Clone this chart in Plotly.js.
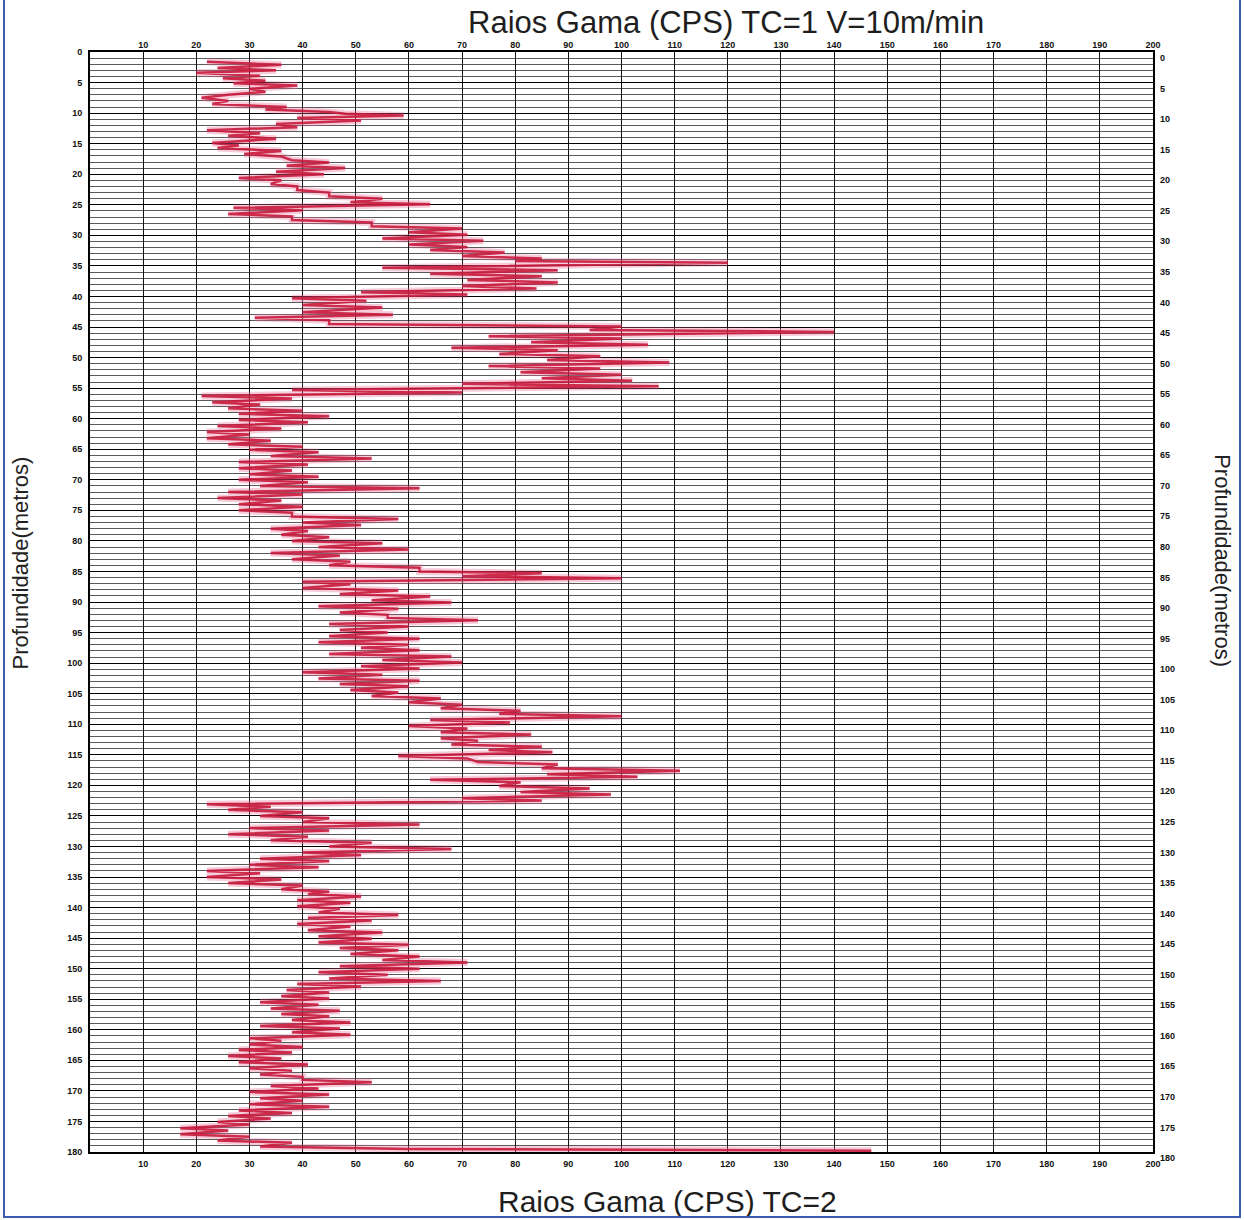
<!DOCTYPE html>
<html>
<head>
<meta charset="utf-8">
<script src="https://cdn.plot.ly/plotly-3.0.1.min.js"></script>
<style>
  html, body { margin: 0; padding: 0; background: #ffffff; }
  #chart { width: 1244px; height: 1220px; }
  #frame { position: absolute; left: 3px; top: 0; width: 1234px; height: 1216px;
           border-left: 2px solid #3a5cae; border-right: 2px solid #3a5cae; border-bottom: 2px solid #3a5cae;
           pointer-events: none; }
</style>
</head>
<body>
<div id="chart"></div>
<div id="frame"></div>
<script>
// Gamma-ray log: depth (m) and counts per second
const depthM = [
1.6,2.1,2.6,3.0,3.4,3.9,4.3,4.7,5.1,5.5,6.0,6.5,7.0,7.5,8.0,8.5,9.0,9.4,9.8,10.1,10.4,10.8,11.2,11.8,12.3,12.8,13.3,13.7,14.2,14.9,15.3,15.7,16.2,16.7,17.1,17.7,18.1,18.6,19.0,19.6,20.0,20.6,21.0,21.6,22.0,22.6,23.0,23.6,24.0,24.6,24.9,25.5,25.9,26.5,26.9,27.5,27.9,28.5,28.9,29.5,29.9,30.5,30.9,31.5,31.9,32.4,32.8,33.4,33.8,34.2,34.5,35.3,35.7,36.3,36.7,37.3,37.7,38.3,38.7,39.3,39.7,40.3,40.7,41.4,41.8,42.6,43.0,43.5,43.9,44.5,44.9,45.5,45.8,46.5,46.9,47.5,47.9,48.4,48.8,49.4,49.8,50.4,50.8,51.4,51.8,52.4,52.8,53.4,53.8,54.3,54.7,55.3,55.7,56.3,56.7,57.3,57.7,58.3,58.7,59.2,59.6,60.2,60.6,61.2,61.6,62.2,62.6,63.2,63.6,64.2,64.6,65.1,65.5,66.1,66.5,67.1,67.5,68.1,68.5,69.1,69.5,70.0,70.4,71.0,71.4,72.0,72.4,73.0,73.4,74.0,74.4,75.0,75.4,76.0,76.4,77.0,77.4,78.0,78.4,79.0,79.4,80.0,80.4,81.0,81.4,82.0,82.4,83.0,83.4,84.0,84.4,85.0,85.3,85.8,86.1,86.7,87.1,87.7,88.1,88.7,89.1,89.7,90.1,90.7,91.1,91.7,92.1,92.6,93.0,93.6,94.0,94.6,95.0,95.6,96.0,96.6,97.0,97.5,97.9,98.5,98.9,99.5,99.9,100.5,100.9,101.5,101.9,102.5,102.9,103.4,103.8,104.4,104.8,105.4,105.8,106.4,106.8,107.4,107.8,108.3,108.7,109.3,109.7,110.3,110.7,111.3,111.7,112.3,112.7,113.3,113.7,114.2,114.6,115.2,115.6,116.2,116.6,117.2,117.6,118.2,118.6,119.1,119.5,120.1,120.5,121.1,121.5,122.1,122.5,123.1,123.5,124.0,124.4,125.0,125.4,126.0,126.4,127.0,127.4,128.0,128.4,129.0,129.4,130.0,130.4,131.0,131.4,132.0,132.4,133.0,133.4,134.0,134.4,135.0,135.4,136.0,136.4,137.0,137.4,137.8,138.2,138.8,139.2,139.8,140.2,140.8,141.2,141.7,142.1,142.7,143.1,143.7,144.1,144.7,145.1,145.7,146.1,146.6,147.0,147.6,148.0,148.6,149.0,149.6,150.0,150.6,151.0,151.6,152.0,152.5,152.9,153.5,153.9,154.5,154.9,155.5,155.9,156.5,156.9,157.4,157.8,158.4,158.8,159.4,159.8,160.4,160.8,161.4,161.8,162.4,162.8,163.3,163.7,164.3,164.7,165.3,165.7,166.3,166.7,167.3,167.7,168.2,168.6,169.2,169.6,170.2,170.6,171.2,171.6,172.2,172.6,173.2,173.6,174.1,174.5,175.1,175.5,176.1,176.5,177.1,177.5,178.1,178.5,179.1,179.5,179.8
];
const gammaCPS = [
22,36,24,35,20,32,25,33,27,39,30,33,26,21,26,23,37,33,45,48,59,39,51,35,39,22,32,26,35,23,28,24,36,29,36,38,45,37,48,35,44,28,36,34,39,39,45,45,55,49,64,27,40,26,38,38,53,53,70,60,71,55,74,60,71,64,78,70,85,80,120,55,88,64,85,71,88,70,84,51,71,38,52,40,55,40,57,31,45,45,100,94,140,75,100,83,105,68,88,77,96,86,109,75,96,81,100,85,102,70,107,38,70,21,38,23,32,26,40,28,45,28,41,24,36,22,30,22,34,26,40,30,43,34,53,28,41,28,38,30,43,28,41,32,62,26,40,24,36,28,40,28,38,38,58,40,51,34,41,36,45,38,55,43,60,34,47,38,49,45,62,62,85,70,100,40,49,40,58,47,64,53,68,43,58,47,56,56,73,45,60,47,56,45,62,43,60,51,62,45,68,55,70,51,62,40,55,43,62,47,60,49,58,53,66,60,70,66,81,77,100,64,79,60,71,66,83,66,73,68,85,75,87,58,71,73,88,85,111,86,103,64,81,77,94,81,98,70,85,22,34,26,40,32,45,40,62,30,45,26,41,34,53,45,68,40,51,32,45,30,43,22,32,22,36,26,40,36,45,41,51,39,49,39,47,43,58,41,53,39,49,41,55,43,53,43,60,47,58,49,62,55,71,47,62,43,56,45,66,39,51,37,45,36,45,32,43,34,47,36,45,38,49,32,47,38,49,30,36,30,40,28,38,26,36,28,41,30,38,32,40,40,53,34,43,30,45,32,40,30,45,28,38,26,34,24,30,17,26,17,30,24,38,32,60,147
];
const xTickVals = [10,20,30,40,50,60,70,80,90,100,110,120,130,140,150,160,170,180,190,200];
const yTickVals = [0,5,10,15,20,25,30,35,40,45,50,55,60,65,70,75,80,85,90,95,100,105,110,115,120,125,130,135,140,145,150,155,160,165,170,175,180];
const titleTop = 'Raios Gama (CPS) TC=1 V=10m/min';
const titleBottom = 'Raios Gama (CPS) TC=2';
const titleDepth = 'Profundidade(metros)';

const tickFont = {family: 'Liberation Sans, Arial, sans-serif', size: 9, color: '#111', weight: 'bold'};
const titleFontTop = {family: 'Liberation Sans, Arial, sans-serif', size: 31, color: '#1e1e1e'};
const titleFontBottom = {family: 'Liberation Sans, Arial, sans-serif', size: 30, color: '#1e1e1e'};

const traces = [
  {x: gammaCPS, y: depthM, type: 'scatter', mode: 'lines', xaxis: 'x', yaxis: 'y',
   line: {color: 'rgba(232,110,150,0.35)', width: 7, shape: 'linear'}, hoverinfo: 'skip', showlegend: false},
  {x: gammaCPS, y: depthM, type: 'scatter', mode: 'lines', xaxis: 'x', yaxis: 'y',
   line: {color: 'rgba(200,25,60,0.9)', width: 2.5}, showlegend: false},
  {x: gammaCPS, y: depthM, type: 'scatter', mode: 'lines', xaxis: 'x2', yaxis: 'y2',
   line: {color: 'rgba(0,0,0,0)', width: 0}, hoverinfo: 'skip', showlegend: false}
];

const layout = {
  width: 1244, height: 1220,
  margin: {l: 90, r: 91, t: 52, b: 68},
  paper_bgcolor: '#ffffff', plot_bgcolor: '#ffffff',
  showlegend: false,
  xaxis: {range: [0, 200], tickmode: 'array', tickvals: xTickVals, side: 'bottom',
          showgrid: true, gridcolor: '#111', gridwidth: 1, zeroline: false,
          showline: true, mirror: true, linecolor: '#000', linewidth: 2,
          ticks: '', ticklabelstandoff: 2, tickfont: tickFont},
  xaxis2: {range: [0, 200], tickmode: 'array', tickvals: xTickVals, side: 'top', overlaying: 'x',
           showgrid: false, zeroline: false, showline: false, ticks: '', ticklabelstandoff: 1, tickfont: tickFont},
  yaxis: {range: [180, 0], tickmode: 'array', tickvals: yTickVals, side: 'left',
          showgrid: true, gridcolor: '#000', gridwidth: 1, zeroline: false,
          minor: {dtick: 1, showgrid: true, gridcolor: '#5a5a5a', gridwidth: 1, ticks: ''},
          showline: true, mirror: true, linecolor: '#000', linewidth: 2,
          ticks: '', ticklabelstandoff: 4, tickfont: tickFont},
  yaxis2: {range: [180, 0], tickmode: 'array', tickvals: yTickVals, side: 'right', overlaying: 'y',
           showgrid: false, zeroline: false, showline: false, ticks: '', ticklabelstandoff: 6,
           ticklabelshift: -6, tickfont: tickFont},
  annotations: [
    {text: titleTop, xref: 'paper', yref: 'paper', x: 0.598, y: 1, yshift: 30, showarrow: false,
     xanchor: 'center', yanchor: 'middle', font: titleFontTop},
    {text: titleBottom, xref: 'paper', yref: 'paper', x: 0.543, y: 0, yshift: -49, showarrow: false,
     xanchor: 'center', yanchor: 'middle', font: titleFontBottom},
    {text: titleDepth, xref: 'paper', yref: 'paper', x: 0, xshift: -70, y: 0.535, showarrow: false, textangle: -90,
     xanchor: 'center', yanchor: 'middle', font: {family: 'Liberation Sans Narrow, Arial Narrow, Liberation Sans, sans-serif', size: 22, color: '#222'}},
    {text: titleDepth, xref: 'paper', yref: 'paper', x: 1, xshift: 70, y: 0.538, showarrow: false, textangle: 90,
     xanchor: 'center', yanchor: 'middle', font: {family: 'Liberation Sans Narrow, Arial Narrow, Liberation Sans, sans-serif', size: 22, color: '#222'}}
  ]
};

Plotly.newPlot('chart', traces, layout, {displayModeBar: false, staticPlot: true});
</script>
</body>
</html>
